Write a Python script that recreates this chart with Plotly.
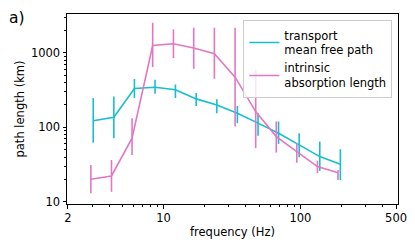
import plotly.graph_objects as go

# Data
freq_tmfp = [3.06, 4.33, 6.12, 8.66, 12.2, 17.3, 24.5, 34.6, 49.0, 69.2, 97.9, 138.5, 195.8]
tmfp = [123, 137, 332, 345, 319, 241, 200, 155, 114, 83.6, 58.2, 40.6, 32.1]
tmfp_hi = [247, 259, 444, 434, 376, 288, 239, 194, 155, 120, 83.6, 64.5, 51]
tmfp_lo = [62.5, 71.6, 247, 282, 247, 194, 155, 114, 77, 60, 39.8, 26.1, 19.7]

freq_abs = [2.94, 4.16, 5.88, 8.32, 11.8, 16.6, 23.5, 33.3, 47.1, 66.6, 94.1, 133.1, 188.2]
absl = [20.2, 22.3, 71.6, 1253, 1321, 1156, 970, 472, 163, 75.3, 47.3, 29.8, 24.7]
absl_hi = [31.4, 36.6, 133, 2529, 2055, 2166, 2166, 2166, 591, 120, 61.4, 35.8, 26.9]
absl_lo = [13.1, 13.7, 42.8, 643, 849, 610, 448, 103, 52.6, 45.9, 33.7, 24.3, 19.7]

x_ticks = [2, 10, 100, 500]
x_minor = [3, 4, 5, 6, 7, 8, 9, 20, 30, 40, 50, 60, 70, 80, 90, 200, 300, 400]
y_ticks = [10, 100, 1000]
y_minor = [m * d for d in (10, 100, 1000) for m in range(2, 10)]

CYAN = "#17becf"
PINK = "#e377c2"

fig = go.Figure()
fig.add_trace(go.Scatter(
    x=freq_tmfp, y=tmfp, mode="lines",
    name="transport<br>mean free path",
    line=dict(color=CYAN, width=1.6),
    error_y=dict(type="data", symmetric=False,
                 array=[h - v for h, v in zip(tmfp_hi, tmfp)],
                 arrayminus=[v - l for v, l in zip(tmfp, tmfp_lo)],
                 color=CYAN, thickness=1.6, width=0),
))
fig.add_trace(go.Scatter(
    x=freq_abs, y=absl, mode="lines",
    name="intrinsic<br>absorption length",
    line=dict(color=PINK, width=1.6),
    error_y=dict(type="data", symmetric=False,
                 array=[h - v for h, v in zip(absl_hi, absl)],
                 arrayminus=[v - l for v, l in zip(absl, absl_lo)],
                 color=PINK, thickness=1.6, width=0),
))

FONT = "DejaVu Sans"
FS = 11.5
axis_common = dict(
    showline=True, linecolor="black", linewidth=1, mirror=True,
    ticks="outside", ticklen=3.5, tickwidth=1, tickcolor="black",
    showgrid=False, zeroline=False,
    tickfont=dict(family=FONT, size=FS, color="black"),
)

fig.update_xaxes(
    type="log", range=[0.294, 2.713],
    tickmode="array", tickvals=x_ticks, ticktext=[str(v) for v in x_ticks],
    minor=dict(tickmode="array", tickvals=x_minor, ticks="outside", ticklen=2,
               tickcolor="black", tickwidth=0.8, showgrid=False),
    title=dict(text="frequency (Hz)", font=dict(family=FONT, size=FS, color="black"), standoff=3),
    **axis_common,
)
fig.update_yaxes(
    type="log", range=[0.973, 3.52],
    tickmode="array", tickvals=y_ticks, ticktext=[str(v) for v in y_ticks],
    minor=dict(tickmode="array", tickvals=y_minor, ticks="outside", ticklen=2,
               tickcolor="black", tickwidth=0.8, showgrid=False),
    title=dict(text="path length (km)", font=dict(family=FONT, size=FS, color="black"), standoff=3),
    **axis_common,
)

fig.add_annotation(text="a)", xref="paper", yref="paper", x=-0.18, y=1.035,
                   xanchor="left", yanchor="top", showarrow=False,
                   font=dict(family=FONT, size=15.5, color="black"))

fig.update_layout(
    width=415, height=249,
    margin=dict(l=67, r=17, t=14, b=45, autoexpand=False),
    paper_bgcolor="white", plot_bgcolor="white",
    font=dict(family=FONT, size=FS, color="black"),
    showlegend=True,
    legend=dict(x=0.983, y=0.968, xanchor="right", yanchor="top",
                bgcolor="rgba(255,255,255,0.8)", bordercolor="#cccccc", borderwidth=1,
                font=dict(family=FONT, size=FS, color="black"),
                itemwidth=30),
)

fig.write_html("out.html", config={"displayModeBar": False},
               post_script="document.body.style.margin='0';")
